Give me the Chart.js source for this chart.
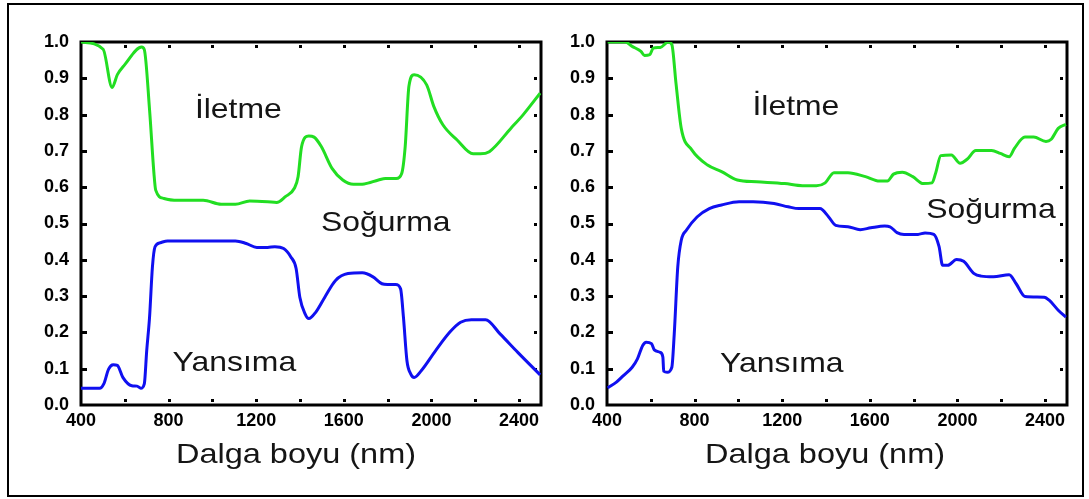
<!DOCTYPE html>
<html>
<head>
<meta charset="utf-8">
<script src="https://cdn.jsdelivr.net/npm/chart.js@4.4.1/dist/chart.umd.min.js"></script>
<style>
  html, body { margin: 0; padding: 0; background: #fff; }
  #wrap { position: relative; width: 1089px; height: 499px; overflow: hidden; background: #fff; }
  #border { position: absolute; left: 7px; top: 3px; width: 1077px; height: 494px; border: 2px solid #000; box-sizing: border-box; }
  canvas { position: absolute; top: 0; }
  #c1 { left: 0; }
  #c2 { left: 555px; }
</style>
</head>
<body>
<div id="wrap">
  <div id="border"></div>
  <canvas id="c1" width="555" height="499"></canvas>
  <canvas id="c2" width="534" height="499"></canvas>
</div>
<script>
// Axis ticks
const xTicks = [400, 800, 1200, 1600, 2000, 2400];
const xDotTicks = [600, 800, 1000, 1200, 1400, 1600, 1800, 2000, 2200, 2400];
const yTicks = [0.0, 0.1, 0.2, 0.3, 0.4, 0.5, 0.6, 0.7, 0.8, 0.9, 1.0];

// Left panel: transmission (İletme)
const leftTransWl = [400, 501, 542, 566, 599, 677, 689, 713, 733, 741, 779, 844, 958, 1040, 1105, 1170, 1252, 1293, 1333, 1374, 1391, 1407, 1440, 1464, 1497, 1546, 1595, 1644, 1693, 1758, 1790, 1839, 1864, 1880, 1897, 1921, 1978, 2011, 2052, 2117, 2190, 2223, 2264, 2362, 2419, 2496];
const leftTrans = [1.0, 0.98, 0.875, 0.91, 0.937, 0.986, 0.979, 0.813, 0.638, 0.592, 0.569, 0.564, 0.564, 0.553, 0.553, 0.562, 0.56, 0.558, 0.574, 0.597, 0.629, 0.712, 0.741, 0.738, 0.712, 0.652, 0.62, 0.608, 0.609, 0.62, 0.624, 0.624, 0.638, 0.712, 0.878, 0.91, 0.882, 0.822, 0.772, 0.73, 0.692, 0.692, 0.698, 0.762, 0.8, 0.859];

// Left panel: reflectance (Yansıma)
const leftReflWl = [400, 485, 504, 526, 547, 566, 591, 632, 656, 673, 689, 700, 713, 726, 738, 762, 795, 925, 1105, 1154, 1203, 1252, 1285, 1325, 1358, 1382, 1399, 1423, 1440, 1472, 1513, 1562, 1619, 1684, 1733, 1774, 1799, 1836, 1859, 1872, 1888, 1905, 1921, 1954, 2019, 2084, 2133, 2182, 2247, 2313, 2394, 2496];
const leftRefl = [0.046, 0.046, 0.058, 0.099, 0.111, 0.109, 0.076, 0.053, 0.052, 0.046, 0.058, 0.15, 0.242, 0.38, 0.436, 0.447, 0.452, 0.452, 0.452, 0.445, 0.434, 0.434, 0.436, 0.431, 0.408, 0.376, 0.297, 0.251, 0.238, 0.256, 0.297, 0.343, 0.362, 0.364, 0.353, 0.334, 0.332, 0.332, 0.32, 0.242, 0.122, 0.086, 0.076, 0.095, 0.15, 0.201, 0.228, 0.235, 0.235, 0.196, 0.145, 0.083];

// Right panel: transmission (İletme)
const rightTransWl = [403, 483, 515, 555, 571, 595, 611, 643, 680, 696, 715, 739, 787, 859, 923, 995, 1083, 1211, 1292, 1356, 1396, 1436, 1500, 1580, 1644, 1680, 1708, 1748, 1796, 1844, 1884, 1900, 1924, 1972, 2012, 2044, 2084, 2156, 2196, 2236, 2260, 2308, 2348, 2404, 2428, 2460, 2495];
const rightTrans = [1.0, 1.0, 0.988, 0.974, 0.963, 0.965, 0.983, 0.985, 1.0, 0.993, 0.886, 0.762, 0.703, 0.661, 0.643, 0.62, 0.615, 0.61, 0.604, 0.604, 0.612, 0.64, 0.64, 0.629, 0.617, 0.617, 0.636, 0.641, 0.629, 0.61, 0.612, 0.638, 0.687, 0.689, 0.666, 0.677, 0.701, 0.701, 0.693, 0.684, 0.707, 0.738, 0.738, 0.726, 0.732, 0.762, 0.773];

// Right panel: reflectance (Yansıma)
const rightReflWl = [403, 443, 475, 515, 539, 563, 579, 603, 616, 643, 655, 659, 675, 696, 707, 723, 739, 763, 811, 867, 923, 1003, 1067, 1163, 1227, 1276, 1372, 1412, 1444, 1500, 1556, 1604, 1668, 1692, 1724, 1756, 1820, 1852, 1892, 1916, 1932, 1956, 1996, 2028, 2076, 2108, 2164, 2236, 2268, 2308, 2396, 2420, 2460, 2495];
const rightRefl = [0.047, 0.063, 0.081, 0.104, 0.127, 0.164, 0.173, 0.169, 0.152, 0.145, 0.132, 0.093, 0.09, 0.104, 0.196, 0.38, 0.454, 0.482, 0.518, 0.541, 0.551, 0.56, 0.56, 0.555, 0.546, 0.541, 0.541, 0.518, 0.495, 0.491, 0.483, 0.488, 0.493, 0.491, 0.475, 0.47, 0.47, 0.474, 0.47, 0.436, 0.385, 0.385, 0.401, 0.396, 0.362, 0.355, 0.353, 0.359, 0.334, 0.299, 0.297, 0.288, 0.261, 0.242];

const GREEN = 'rgb(34,222,34)';
const BLUE = 'rgb(16,16,240)';
const TEXT = '#151515';
const FONT = "'Liberation Sans', Arial, sans-serif";

Chart.defaults.font.family = FONT;

function pts(xs, ys) { return xs.map((x, i) => ({ x: x, y: ys[i] })); }

// Frame, inner tick marks, region labels and the axis title
const panelPlugin = {
  id: 'panel',
  beforeDatasetsDraw(chart) {
    const { ctx, chartArea: a, scales: { x, y } } = chart;
    ctx.save();
    ctx.fillStyle = '#000';
    yTicks.forEach(v => {
      if (v <= 0 || v >= 1) return;
      const py = Math.round(y.getPixelForValue(v));
      ctx.fillRect(a.left, py - 1, 6, 3);
      ctx.fillRect(a.right - 7, py - 1, 3, 3);
    });
    xDotTicks.forEach(v => {
      const px = Math.round(x.getPixelForValue(v));
      ctx.fillRect(px - 1, a.top + 3, 3, 3);
      ctx.fillRect(px - 1, a.bottom - 6, 3, 3);
    });
    ctx.strokeStyle = '#000';
    ctx.lineWidth = 3;
    ctx.strokeRect(a.left, a.top, a.right - a.left, a.bottom - a.top);
    ctx.restore();
  },
  afterDraw(chart, args, opts) {
    const { ctx, chartArea: a, scales: { x, y } } = chart;
    ctx.save();
    ctx.fillStyle = TEXT;
    ctx.textBaseline = 'alphabetic';
    ctx.font = '28px ' + FONT;
    (opts.labels || []).forEach(l => {
      const px = x.getPixelForValue(l.x);
      const py = y.getPixelForValue(l.y);
      ctx.save();
      ctx.translate(px, py);
      ctx.scale(1.14, 1);
      ctx.textAlign = 'left';
      ctx.fillText(l.text, 0, 0);
      ctx.restore();
    });
    if (opts.title) {
      ctx.save();
      ctx.translate((a.left + a.right) / 2 + opts.titleShift, a.bottom + 58);
      ctx.scale(1.16, 1);
      ctx.textAlign = 'center';
      ctx.fillText(opts.title, 0, 0);
      ctx.restore();
    }
    ctx.restore();
  }
};

function makePanel(id, transWl, trans, reflWl, refl, yAxisWidth, padRight, labels, titleShift) {
  const canvas = document.getElementById(id);
  return new Chart(canvas, {
    type: 'line',
    data: {
      datasets: [
        { label: 'İletme', data: pts(transWl, trans), borderColor: GREEN, borderWidth: 3, pointRadius: 0, cubicInterpolationMode: 'monotone', fill: false },
        { label: 'Yansıma', data: pts(reflWl, refl), borderColor: BLUE, borderWidth: 3, pointRadius: 0, cubicInterpolationMode: 'monotone', fill: false }
      ]
    },
    options: {
      responsive: false,
      animation: false,
      layout: { padding: { top: 42, right: padRight, left: 0, bottom: 0 } },
      plugins: {
        legend: { display: false },
        tooltip: { enabled: false },
        panel: { labels: labels, title: 'Dalga boyu (nm)', titleShift: titleShift }
      },
      scales: {
        x: {
          type: 'linear', min: 400, max: 2500,
          afterBuildTicks: s => { s.ticks = xTicks.map(v => ({ value: v })); },
          afterFit: s => { s.height = 94; },
          grid: { display: false, drawTicks: false },
          border: { display: false },
          ticks: { color: '#000', padding: 5, maxRotation: 0, autoSkip: false, font: { size: 18, weight: 'bold' }, callback: v => String(v) }
        },
        y: {
          type: 'linear', min: 0, max: 1,
          afterBuildTicks: s => { s.ticks = yTicks.map(v => ({ value: v })); },
          afterFit: s => { s.width = yAxisWidth; },
          grid: { display: false, drawTicks: false },
          border: { display: false },
          ticks: { color: '#000', padding: 12, autoSkip: false, font: { size: 18, weight: 'bold' }, callback: v => v.toFixed(1) }
        }
      }
    },
    plugins: [panelPlugin]
  });
}

makePanel('c1', leftTransWl, leftTrans, leftReflWl, leftRefl, 81, 14, [
  { text: 'İletme', x: 920, y: 0.792 },
  { text: 'Soğurma', x: 1496, y: 0.479 },
  { text: 'Yansıma', x: 818, y: 0.094 }
], -15);

makePanel('c2', rightTransWl, rightTrans, rightReflWl, rightRefl, 52, 22, [
  { text: 'İletme', x: 1064, y: 0.8 },
  { text: 'Soğurma', x: 1857, y: 0.515 },
  { text: 'Yansıma', x: 916, y: 0.091 }
], -12);
</script>
</body>
</html>
